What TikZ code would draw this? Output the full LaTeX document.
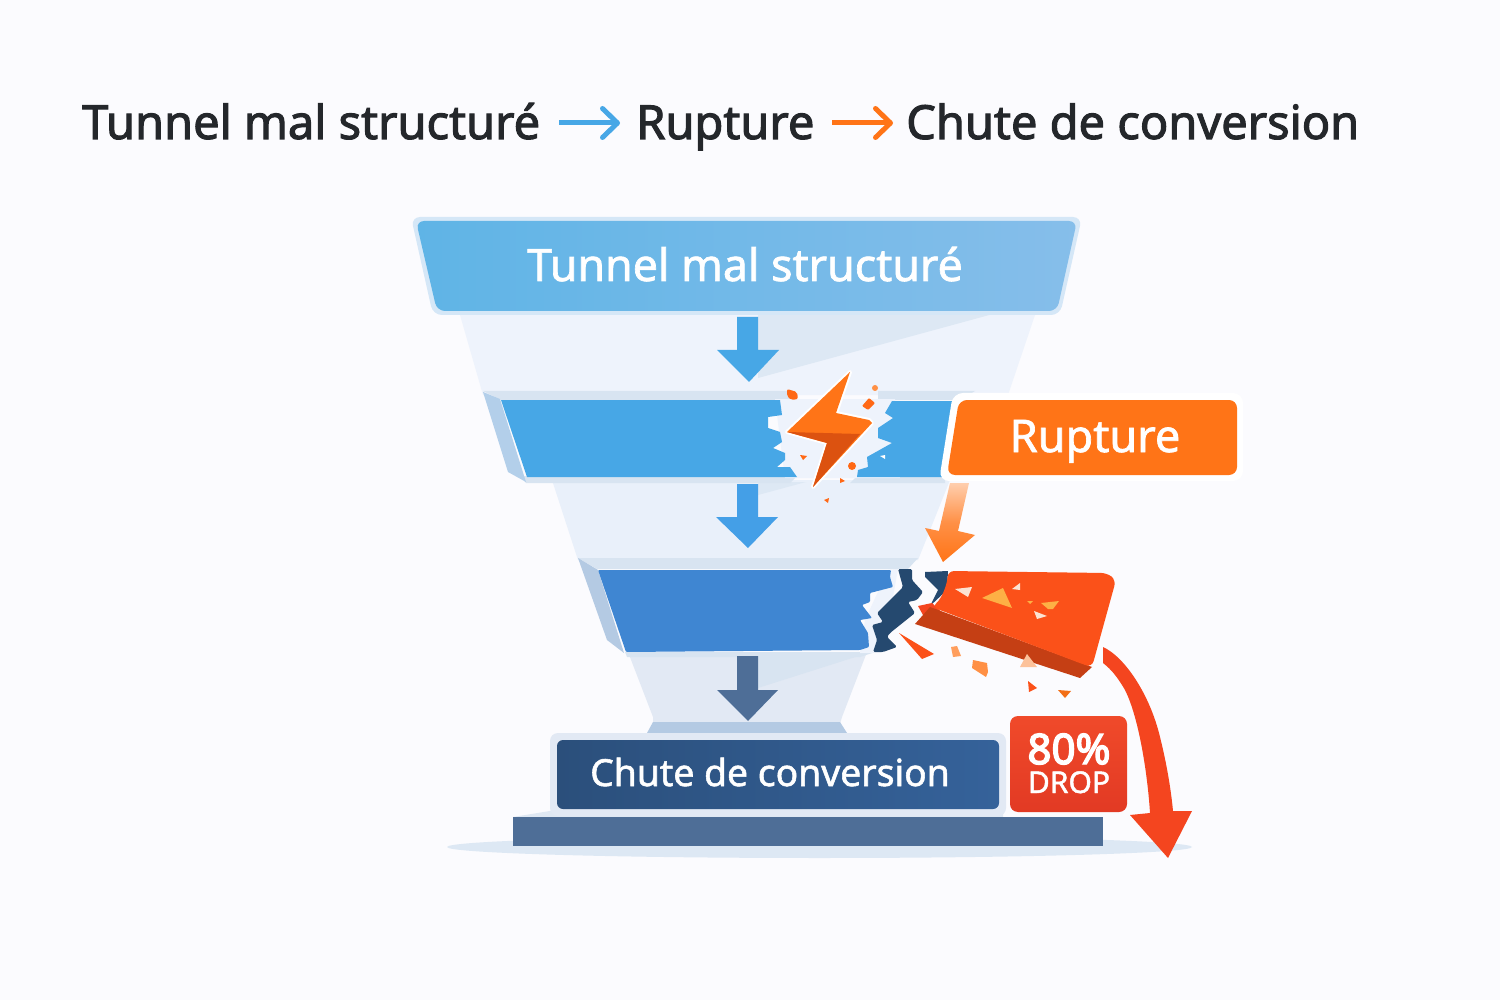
\documentclass[tikz,border=0pt]{standalone}
\usepackage{fontspec}
\setmainfont{Noto Sans}
\newfontfamily\semif[FakeBold=2.2]{Noto Sans}
\newfontfamily\medf[FakeBold=1.5]{Noto Sans}
\newfontfamily\heavyf[FakeBold=3.5]{Noto Sans}
\usetikzlibrary{arrows.meta}
\definecolor{bg}{HTML}{FBFBFE}
\definecolor{ink}{HTML}{24272B}
\definecolor{bodyA}{HTML}{EEF3FC}
\definecolor{bodyB}{HTML}{E9F0FA}
\definecolor{bodyC}{HTML}{E2E9F4}
\definecolor{shadeA}{HTML}{DDE8F4}
\definecolor{stripB}{HTML}{D8E4F1}
\definecolor{facetB}{HTML}{B3CFEA}
\definecolor{facetC}{HTML}{B4CAE3}
\definecolor{blueB}{HTML}{47A7E6}
\definecolor{blueC}{HTML}{3F86D2}
\definecolor{navy}{HTML}{25496F}
\definecolor{steel}{HTML}{4E6E97}
\definecolor{orangeA}{HTML}{FF7417}
\definecolor{orangeD}{HTML}{DC5210}
\definecolor{redA}{HTML}{FB5119}
\definecolor{redD}{HTML}{C53F14}
\definecolor{redB}{HTML}{F4451F}
\definecolor{badgeT}{HTML}{F04A2A}
\definecolor{badgeB}{HTML}{E23A24}
\definecolor{pale}{HTML}{FBE3D3}
\definecolor{amber}{HTML}{FDB045}
\definecolor{topL}{HTML}{5FB4E6}
\definecolor{topM}{HTML}{69ADE0}
\definecolor{topR}{HTML}{86BEEA}
\definecolor{topE}{HTML}{D5E7F7}
\definecolor{chuteL}{HTML}{2B4F7B}
\definecolor{chuteR}{HTML}{35629A}
\tikzset{
  flowtitle/.style={text=ink,anchor=base west,inner sep=0pt,font=\semif\fontsize{47}{47}\selectfont},
  boxlabel/.style={text=white,anchor=base,inner sep=0pt},
  headarrow/.style={line width=5pt,draw=#1,-{Straight Barb[length=15pt,width=29pt,line width=5pt,round=false]}},
}
\begin{document}
\begin{tikzpicture}[x=1pt,y=-1pt]
\useasboundingbox (0,0) rectangle (1500,1000);
\fill[bg] (0,0) rectangle (1500,1000);

% Heading
\node[flowtitle] (t1) at (82,139) {Tunnel mal structuré};
\node[flowtitle] (t2) at (636,139) {Rupture};
\node[flowtitle] (t3) at (906,139) {Chute de conversion};
\coordinate (a1s) at (559,123); \coordinate (a1e) at (620,123);
\coordinate (a2s) at (832,123); \coordinate (a2e) at (893,123);
\draw[headarrow=blueB] (a1s) -- (a1e);
\draw[headarrow=orangeA] (a2s) -- (a2e);

% Ground shadow
\fill[shadeA] (819.5,847) ellipse [x radius=372.5,y radius=11];

% Funnel bodies
\fill[bodyA] (460,315) -- (1035,315) -- (1008,395) -- (483,395) -- cycle;
\fill[bodyB] (552,480) -- (950,480) -- (918,560) -- (578,560) -- cycle;
\fill[bodyC] (628,652) -- (867,652) -- (842,717) -- (840,724) -- (653,724) -- (653,717) -- cycle;

% Soft cast shadows
\fill[shadeA] (758,315) -- (993,314) -- (758,378) -- cycle;
\fill[shadeA] (758,482) -- (806,482) -- (758,495) -- cycle;
\fill[stripB] (758,655) -- (868,653) -- (758,688) -- cycle;

% Top box
\fill[rounded corners=9pt,fill=topE] (411,217) -- (1082,217) -- (1060,315) -- (433,315) -- cycle;
\shade[rounded corners=8pt,left color=topL,middle color=topM,right color=topR] (416,221) -- (1077,221) -- (1057,311) -- (437,311) -- cycle;
\node[boxlabel,font=\medf\fontsize{44.7}{45}\selectfont] (top) at (745,281) {Tunnel mal structuré};

% Band 2
\fill[stripB] (483,391) -- (790,391) -- (790,400) -- (501,400) -- cycle;
\fill[stripB] (878,391) -- (975,391) -- (960,400) -- (878,400) -- cycle;
\fill[stripB] (520,476) -- (797,476) -- (790,483) -- (526,483) -- cycle;
\fill[stripB] (857,476) -- (945,476) -- (945,483) -- (850,483) -- cycle;
\fill[facetB] (483,392) -- (500,399) -- (526,482) -- (508,472) -- cycle;
\fill[bodyA] (775,399) -- (895,399) -- (900,478) -- (785,478) -- cycle;
\fill[blueB] (501,400) -- (780,400) -- (782,415) -- (768,417) -- (768,428) -- (780,432) -- (782,442) -- (773,448) -- (785,453) -- (785,460) -- (777,467) -- (790,467) -- (797,477) -- (527,477) -- cycle;
\fill[blueB] (892,401) -- (960,401) -- (945,477) -- (857,477) -- (858,470) -- (868,467) -- (867,457) -- (892,443) -- (878,438) -- (878,428) -- (893,418) -- (885,413) -- cycle;

% Lightning bolt
\draw[white,line width=4pt,line join=round,fill=white] (850,372) -- (787,432) -- (827,443) -- (813,487) -- (872,423) -- (869,420) -- (836,413) -- cycle;
\fill[orangeA] (850,372) -- (787,432) -- (827,443) -- (813,487) -- (872,423) -- (869,420) -- (836,413) -- cycle;
\fill[orangeD] (787,432) -- (860,434) -- (813,487) -- (827,443) -- cycle;
\fill[orangeA!90!red,rounded corners=2pt] (787,389) -- (797,392) -- (798,399) -- (791,400) -- (787,396) -- cycle;
\fill[orangeA!90!red,rounded corners=1pt] (869,398) -- (875,403) -- (868,410) -- (862,406) -- cycle;
\fill[orangeA!80!white] (875,388) circle (3);
\fill[orangeA!90!red] (800,455) -- (807,456) -- (803,460) -- cycle;
\fill[orangeA!90!red] (852,466) circle (4);
\fill[orangeA!90!red] (840,478) -- (845,481) -- (840,483) -- cycle;
\fill[orangeA!90!red] (824,500) -- (829,498) -- (828,503) -- cycle;
\fill[white] (880,456) -- (885,455) -- (885,459) -- cycle;

% Rupture box
\fill[white,rounded corners=10pt] (953,393) -- (1243,393) -- (1243,481) -- (939,481) -- cycle;
\fill[orangeA,rounded corners=8pt] (959,400) -- (1237,400) -- (1237,475) -- (947,475) -- cycle;
\node[boxlabel,font=\medf\fontsize{45}{45}\selectfont] (rup) at (1095,452) {Rupture};

% Orange connector
\shade[top color=orangeA!35!white,bottom color=orangeA,middle color=orangeA!80!white] (950,483) -- (969,483) -- (958,531) -- (975,535) -- (943,562) -- (925,528) -- (939,531) -- cycle;

% Band 3
\fill[stripB] (578,558) -- (918,558) -- (908,569) -- (597,569) -- cycle;
\fill[stripB] (625,652) -- (875,652) -- (860,657) -- (627,657) -- cycle;
\fill[facetC] (578,558) -- (598,570) -- (624,653) -- (607,640) -- cycle;
\fill[bodyA] (888,570) -- (898,569) -- (893,597) -- (877,613) -- (883,622) -- (872,625) -- (877,640) -- (873,653) -- (860,653) -- (865,620) -- cycle;
\fill[blueC,rounded corners=1pt] (598,570) -- (891,570) -- (890,577) -- (893,587) -- (870,593) -- (870,602) -- (862,605) -- (872,618) -- (860,620) -- (868,633) -- (869,647) -- (860,650) -- (626,652) -- cycle;
\fill[navy,rounded corners=1.5pt] (898,569) -- (912,569) -- (912,580) -- (923,592) -- (917,600) -- (908,602) -- (915,613) -- (890,633) -- (887,637) -- (897,647) -- (883,652) -- (873,652) -- (877,640) -- (872,625) -- (883,622) -- (877,613) -- (893,597) -- (903,587) -- cycle;

% Broken block
\fill[navy] (925,572) -- (948,571) -- (947,590) -- (930,606) -- (938,590) -- (925,577) -- cycle;
\fill[redB] (918,606) -- (932,603) -- (950,620) -- (923,615) -- cycle;
\fill[redD] (930,607) -- (1092,667) -- (1080,678) -- (915,624) -- (923,615) -- cycle;
\fill[redA,rounded corners=6pt] (1085,665) -- (932,607) .. controls (942,598) and (947,585) .. (948,571) -- (1107,573) -- (1116,580) -- (1092,667) -- cycle;
\fill[pale] (955,589) -- (972,587) -- (968,597) -- cycle;
\fill[amber] (982,598) -- (1003,588) -- (1012,608) -- cycle;
\fill[pale] (1012,589) -- (1020,583) -- (1020,590) -- cycle;
\fill[amber] (1027,601) -- (1033,601) -- (1030,604) -- cycle;
\fill[amber] (1041,603) -- (1059,601) -- (1053,609) -- (1048,609) -- cycle;
\fill[pale] (1034,611) -- (1047,616) -- (1037,619) -- cycle;
\fill[redA] (899,633) -- (934,654) -- (922,659) -- cycle;
\fill[orangeA!70!white] (951,647) -- (957,646) -- (961,656) -- (953,657) -- cycle;
\fill[orangeA!80!white] (973,660) -- (987,663) -- (988,672) -- (986,677) -- (972,668) -- cycle;
\fill[orangeA!30!pale] (1027,654) -- (1037,667) -- (1020,667) -- cycle;
\fill[redA] (1028,681) -- (1037,688) -- (1029,692) -- cycle;
\fill[orangeA!95!black] (1058,690) -- (1071,691) -- (1065,698) -- cycle;

% Down arrows
\fill[blueB] (737,317) -- (758,317) -- (758,350) -- (779,350) -- (749,382) -- (717,350) -- (737,350) -- cycle;
\fill[blueB!95!blue] (737,484) -- (758,484) -- (758,517) -- (778,517) -- (748,548) -- (716,517) -- (737,517) -- cycle;
\fill[steel] (737,656) -- (758,656) -- (758,690) -- (778,690) -- (748,721) -- (717,690) -- (737,690) -- cycle;

% Bottom stack
\fill[facetC] (647,733) -- (653,722) -- (840,722) -- (847,733) -- cycle;
\fill[bodyC!70!stripB] (513,817) -- (556,810) -- (1003,810) -- (1003,817) -- cycle;
\fill[steel] (513,817) rectangle (1103,846);
\fill[bodyC,rounded corners=8pt] (550,733) rectangle (1006,816);
\shade[rounded corners=6pt,left color=chuteL,right color=chuteR] (557,740) rectangle (999,809);
\node[boxlabel,font=\medf\fontsize{37.3}{37}\selectfont] (conv) at (770,786) {Chute de conversion};

% Red curved arrow
\fill[redB] (1103,647) .. controls (1125,657) and (1150,695) .. (1160,737) .. controls (1167,765) and (1171,790) .. (1173,811) -- (1192,811) -- (1168,858) -- (1130,815) -- (1150,813) .. controls (1148,780) and (1140,720) .. (1125,690) .. controls (1118,678) and (1112,670) .. (1103,663) -- cycle;

% Badge
\shade[rounded corners=8pt,top color=badgeT,bottom color=badgeB] (1010,716) rectangle (1127,812);
\node[boxlabel,font=\heavyf\fontsize{42}{42}\selectfont] (pct) at (1069,764) {80\%};
\node[boxlabel,font=\medf\fontsize{30}{30}\selectfont] (drop) at (1069,793) {DROP};
\end{tikzpicture}
\end{document}
